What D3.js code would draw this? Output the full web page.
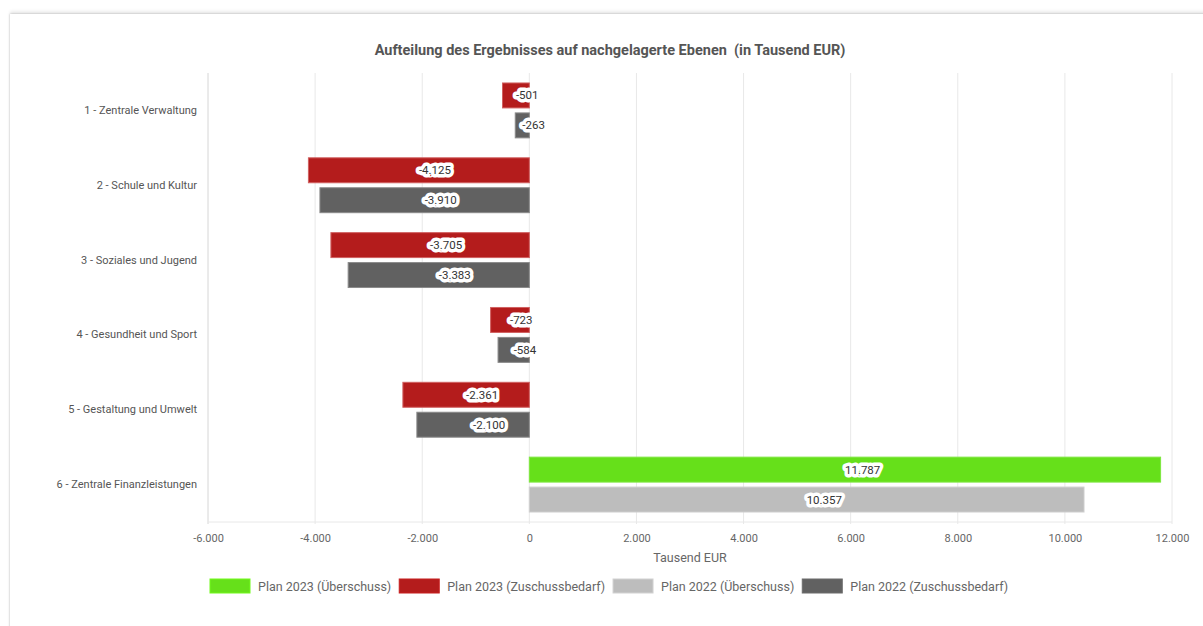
<!DOCTYPE html>
<html>
<head>
<meta charset="utf-8">
<script src="https://cdn.jsdelivr.net/npm/d3@7"></script>
<style>
  body { margin: 0; background: #fff; font-family: Roboto, "Open Sans", sans-serif; }
  #card {
    position: absolute; left: 10px; top: 14px; width: 1210px; height: 640px;
    background: #fff; box-shadow: 0 -3px 3px rgba(0,0,0,0.08), 0 0 2px rgba(0,0,0,0.25);
  }
  svg { position: absolute; left: 0; top: 0; }
</style>
</head>
<body>
<div id="card"></div>
<svg id="chart" width="1203" height="626"></svg>
<script>
// categories and values (Tausend EUR)
var categories = [
  '1 - Zentrale Verwaltung',
  '2 - Schule und Kultur',
  '3 - Soziales und Jugend',
  '4 - Gesundheit und Sport',
  '5 - Gestaltung und Umwelt',
  '6 - Zentrale Finanzleistungen'
];
var plan2023 = [-501, -4125, -3705, -723, -2361, 11787];
var plan2022 = [-263, -3910, -3383, -584, -2100, 10357];
var xTicks = [-6000, -4000, -2000, 0, 2000, 4000, 6000, 8000, 10000, 12000];
var legendLabels = [
  'Plan 2023 (Überschuss)',
  'Plan 2023 (Zuschussbedarf)',
  'Plan 2022 (Überschuss)',
  'Plan 2022 (Zuschussbedarf)'
];

var colors = {
  '2023': { pos: '#66e01a', neg: '#b41c1c', posBorder: '#7ee63f', negBorder: '#d06060' },
  '2022': { pos: '#bdbdbd', neg: '#616161', posBorder: '#cfcfcf', negBorder: '#8a8a8a' }
};
var legendColors = ['#66e01a', '#b41c1c', '#bdbdbd', '#616161'];

var de = d3.formatLocale({ decimal: ',', thousands: '.', grouping: [3], currency: ['', ' €'], minus: '-' });
var fmt = de.format(',d');

var svg = d3.select('#chart');
var margin = { left: 208, right: 31, top: 73, bottom: 104 };
var width = 1203 - margin.left - margin.right,
    height = 626 - margin.top - margin.bottom;

var x = d3.scaleLinear().domain([-6000, 12000]).range([margin.left, margin.left + width]);
var y = d3.scaleBand().domain(categories).range([margin.top, margin.top + height]);
var ySub = d3.scaleBand().domain(['2023', '2022']).range([0, y.bandwidth()])
    .paddingInner(1 / 6).paddingOuter(1 / 3);

// title
svg.append('text')
  .attr('x', 610).attr('y', 55)
  .attr('text-anchor', 'middle')
  .style('white-space', 'pre')
  .attr('font-size', 14.5).attr('font-weight', 'bold').attr('fill', '#555')
  .text('Aufteilung des Ergebnisses auf nachgelagerte Ebenen  (in Tausend EUR)');

// grid lines
var g = svg.append('g');
g.selectAll('line.grid').data(xTicks).enter().append('line')
  .attr('class', 'grid')
  .attr('x1', function(d) { return x(d); }).attr('x2', function(d) { return x(d); })
  .attr('y1', margin.top).attr('y2', margin.top + height + 2)
  .attr('stroke', function(d, i) { return i === 0 ? '#d6d6d6' : '#e8e8e8'; })
  .attr('stroke-width', 1);
g.append('line')
  .attr('x1', margin.left).attr('x2', margin.left + width)
  .attr('y1', margin.top + height).attr('y2', margin.top + height)
  .attr('stroke', '#e8e8e8');

// x axis
var xAxis = d3.axisBottom(x).tickValues(xTicks).tickFormat(fmt).tickSize(0).tickPadding(12);
var ax = svg.append('g').attr('transform', 'translate(0,' + (margin.top + height) + ')').call(xAxis);
ax.select('.domain').remove();
ax.selectAll('text').attr('font-size', 11).attr('fill', '#666').attr('font-family', 'Roboto, sans-serif');

svg.append('text')
  .attr('x', x(3000)).attr('y', 562)
  .attr('text-anchor', 'middle').attr('font-size', 12.5).attr('fill', '#666')
  .text('Tausend EUR');

// y axis
var yAxis = d3.axisLeft(y).tickSize(0).tickPadding(11);
var ay = svg.append('g').attr('transform', 'translate(' + margin.left + ',0)').call(yAxis);
ay.select('.domain').remove();
ay.selectAll('text').attr('font-size', 11).attr('fill', '#555').attr('font-family', 'Roboto, sans-serif');

// bars
var rows = [];
categories.forEach(function(c, i) {
  rows.push({ cat: c, series: '2023', value: plan2023[i] });
  rows.push({ cat: c, series: '2022', value: plan2022[i] });
});

var bars = svg.append('g');
bars.selectAll('rect').data(rows).enter().append('rect')
  .attr('x', function(d) { return Math.min(x(0), x(d.value)); })
  .attr('width', function(d) { return Math.abs(x(d.value) - x(0)); })
  .attr('y', function(d) { return y(d.cat) + ySub(d.series); })
  .attr('height', ySub.bandwidth())
  .attr('fill', function(d) { return d.value >= 0 ? colors[d.series].pos : colors[d.series].neg; })
  .attr('stroke', function(d) { return d.value >= 0 ? colors[d.series].posBorder : colors[d.series].negBorder; })
  .attr('stroke-width', 1);

// value labels
var labels = svg.append('g');
labels.selectAll('text').data(rows).enter().append('text')
  .attr('x', function(d) { return (x(0) + x(d.value)) / 2; })
  .attr('y', function(d) { return y(d.cat) + ySub(d.series) + ySub.bandwidth() / 2; })
  .attr('dy', '0.35em')
  .attr('font-size', 11.5)
  .attr('fill', '#333')
  .attr('stroke', '#fff')
  .attr('stroke-width', 7)
  .attr('stroke-linejoin', 'round')
  .attr('paint-order', 'stroke')
  .text(function(d) { return fmt(d.value); });

// legend
var legend = svg.append('g');
var lx = 210;
legendLabels.forEach(function(label, i) {
  var item = legend.append('g').attr('transform', 'translate(' + lx + ',579)');
  item.append('rect').attr('width', 40).attr('height', 14)
    .attr('fill', legendColors[i]).attr('stroke', d3.color(legendColors[i]).brighter(0.3)).attr('stroke-width', 1);
  var t = item.append('text').attr('x', 48).attr('y', 12)
    .attr('font-size', 12.5).attr('fill', '#666').text(label);
  lx += 48 + t.node().getComputedTextLength() + 8;
});
</script>
</body>
</html>
